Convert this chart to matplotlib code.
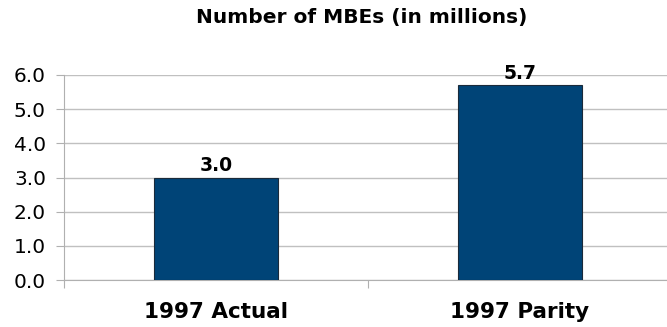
import matplotlib
matplotlib.use("Agg")
import matplotlib.pyplot as plt

# Data
categories = ["1997 Actual", "1997 Parity"]
values = [3.0, 5.7]
value_labels = ["3.0", "5.7"]
yticks = [0, 1, 2, 3, 4, 5, 6]

plt.rcParams['font.family'] = ['DejaVu Sans']

W, H = 667, 327
fig = plt.figure(figsize=(W / 100, H / 100), dpi=100)
# axes from x=64 to x=672 (right edge runs off the canvas), y=75 to y=280
ax = fig.add_axes([64 / W, (H - 280) / H, 608 / W, 205 / H])

x = range(len(categories))
ax.bar(x, values, width=0.405, color='#004477', edgecolor='#1a2a3a',
       linewidth=0.8, zorder=3)

for xi, v, lab in zip(x, values, value_labels):
    ax.annotate(lab, (xi, v), xytext=(0, 4.5), textcoords='offset points',
                ha='center', va='baseline', fontsize=13.5, fontweight='bold',
                color='black', zorder=4)

ax.set_xlim(-0.5, 1.5)
ax.set_ylim(0, 6)
ax.set_yticks(yticks)
ax.set_yticklabels([f"{t:.1f}" for t in yticks], fontsize=14.5)
ax.yaxis.grid(True, color='#c0c0c0', linewidth=1, zorder=0)

ax.set_xticks([-0.5, 0.5, 1.5])
ax.set_xticklabels([])
ax.set_xticks([0, 1], minor=True)
ax.set_xticklabels(categories, minor=True, fontsize=15.5, fontweight='bold')
ax.tick_params(axis='x', which='minor', length=0, pad=16)
ax.tick_params(axis='x', which='major', length=6, color='#b0b0b0', direction='out')
ax.tick_params(axis='y', length=6, color='#b0b0b0', pad=7)

for s in ['top', 'right']:
    ax.spines[s].set_visible(False)
ax.spines['left'].set_color('#b0b0b0')
ax.spines['bottom'].set_color('#b0b0b0')

fig.text(362 / W, 1 - 18 / H, "Number of MBEs (in millions)", ha='center',
         va='center', fontsize=14.5, fontweight='bold')

fig.savefig("out.png", dpi=100)
